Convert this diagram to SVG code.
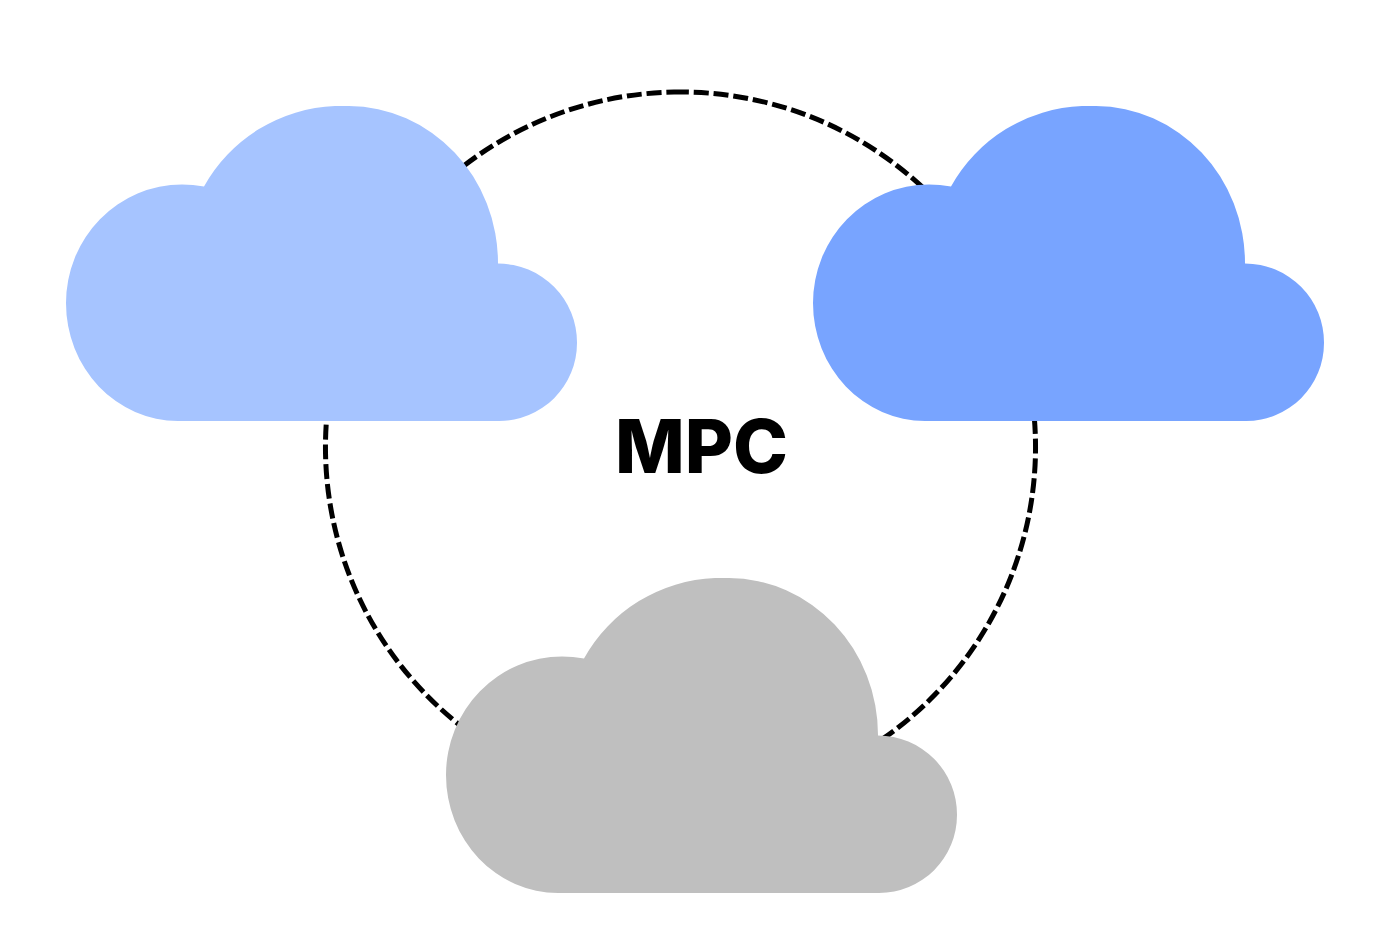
<svg xmlns="http://www.w3.org/2000/svg" width="1383" height="937" viewBox="0 0 1383 937">
<defs>
<style>
.ring{fill:none;stroke:#000;stroke-width:5;stroke-dasharray:15 4.840}
.t{font-family:"Inter","Liberation Sans",sans-serif;font-weight:800;font-size:74px;fill:#000}
</style>
<path id="cloud" d="M178 421 A112 118 0 0 1 66 303 A116 118.500 0 0 1 182 184.500 Q193 184.500 204 186.500 A157 157 0 0 1 335 106 L349 106 A150 157 0 0 1 498 263.500 A79 79 0 0 1 577 343 A78 78 0 0 1 499 421 Z"/>
</defs>
<rect width="1383" height="937" fill="#fff"/>
<g id="connectors"><path class="ring" d="M674 92.060 A355 355 0 0 1 687 802 A355 355 0 0 1 674 92.060"/></g>
<g id="cloud-left"><use href="#cloud" fill="#a6c4ff"/></g>
<g id="cloud-right"><use href="#cloud" x="747" fill="#78a4ff"/></g>
<g id="cloud-bottom"><use href="#cloud" x="380" y="472" fill="#bfbfbf"/></g>
<g id="label"><text class="t" x="701.500" y="473" text-anchor="middle">MPC</text></g>
</svg>
